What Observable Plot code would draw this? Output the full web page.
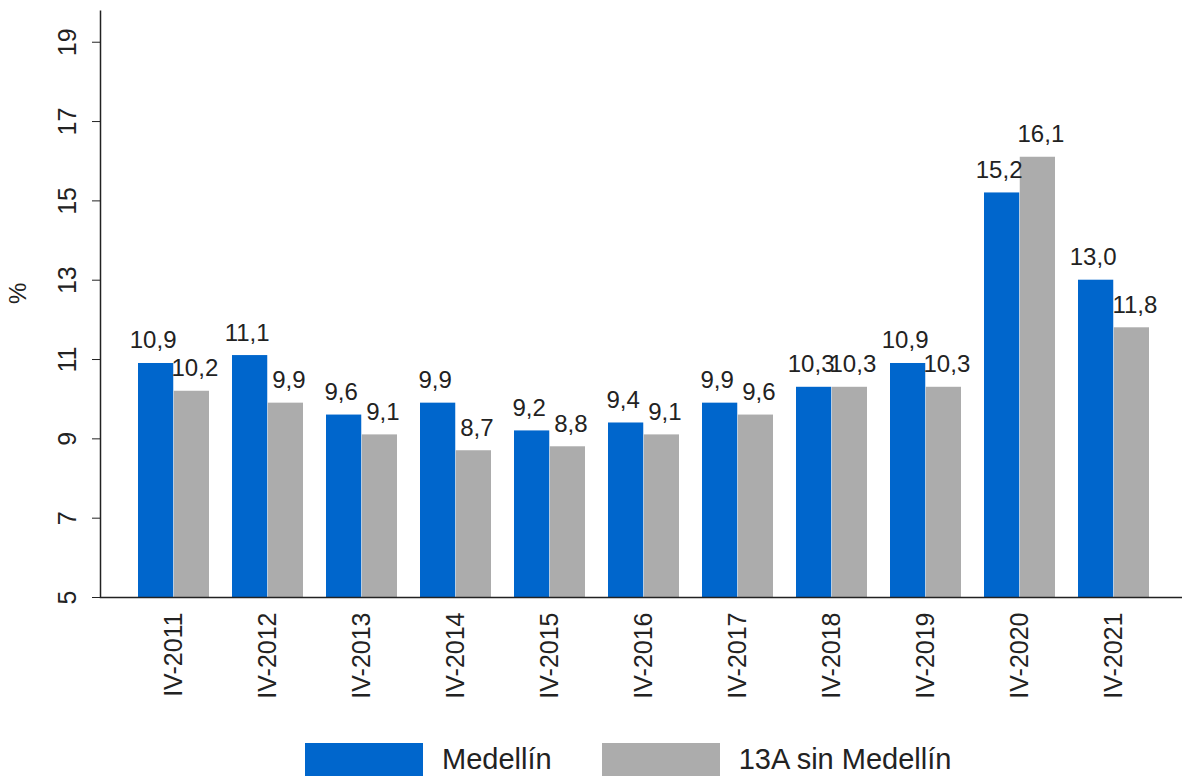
<!DOCTYPE html>
<html>
<head>
<meta charset="utf-8">
<script src="https://cdn.jsdelivr.net/npm/d3@7"></script>
<script src="https://cdn.jsdelivr.net/npm/@observablehq/plot@0.6"></script>
<style>
  html, body { margin: 0; padding: 0; background: #fff; }
  body { width: 1182px; height: 776px; overflow: hidden; font-family: "Liberation Sans", Arial, sans-serif; }
  #legend { display: flex; justify-content: flex-start; align-items: flex-start; margin-top: 28px; padding-left: 305px; font-size: 29px; color: #222; }
  .item { display: flex; align-items: flex-start; margin-right: 50px; }
  .sw { width: 118px; height: 40px; margin-right: 19px; }
  .item span { line-height: 32px; margin-top: 0px; }
</style>
</head>
<body>
<div id="chart"></div>
<div id="legend"></div>
<script>
const categories = ["IV-2011","IV-2012","IV-2013","IV-2014","IV-2015","IV-2016","IV-2017","IV-2018","IV-2019","IV-2020","IV-2021"];
const medellin = [10.9, 11.1, 9.6, 9.9, 9.2, 9.4, 9.9, 10.3, 10.9, 15.2, 13.0];
const sinMedellin = [10.2, 9.9, 9.1, 8.7, 8.8, 9.1, 9.6, 10.3, 10.3, 16.1, 11.8];
const seriesNames = ["Medellín", "13A sin Medellín"];
const seriesColors = ["#0066cc", "#acacac"];
const yTicks = [5, 7, 9, 11, 13, 15, 17, 19];

const dataM = categories.map((c, i) => ({cat: c, v: medellin[i]}));
const dataS = categories.map((c, i) => ({cat: c, v: sinMedellin[i]}));
const fmt = v => v.toFixed(1).replace(".", ",");

const W = 1182, H = 715, mL = 100, mR = 0, mT = 10, mB = 118;
const fw = W - mL - mR, fh = H - mT - mB;
const half = 35.75;
const chart = Plot.plot({
  width: W,
  height: H,
  marginLeft: mL,
  marginRight: mR,
  marginTop: mT,
  marginBottom: mB,
  style: {fontFamily: "'Liberation Sans', Arial, sans-serif", fontSize: "25px", color: "#222", background: "#fff"},
  x: {domain: categories, paddingInner: 0.242, paddingOuter: 0.358, align: 0.54},
  y: {domain: [5, 19.8]},
  marks: [
    Plot.barY(dataM, {x: "cat", y1: 5, y2: "v", fill: seriesColors[0], insetRight: half}),
    Plot.barY(dataS, {x: "cat", y1: 5, y2: "v", fill: seriesColors[1], insetLeft: half}),
    Plot.text(dataM, {x: "cat", y: "v", text: d => fmt(d.v), dx: -half / 2 - 3, dy: -15, lineAnchor: "bottom", fontSize: 24, fill: "#222"}),
    Plot.text(dataS, {x: "cat", y: "v", text: d => fmt(d.v), dx: half / 2 + 3, dy: -15, lineAnchor: "bottom", fontSize: 24, fill: "#222"}),
    Plot.axisY({ticks: yTicks, tickSize: 8, tickPadding: 17, tickRotate: -90, stroke: "#222", color: "#222", label: null, fontSize: 25}),
    Plot.axisX({tickSize: 0, tickPadding: 15, tickRotate: -90, stroke: "#222", color: "#222", label: null, fontSize: 25}),
    Plot.text(["%"], {frameAnchor: "left", rotate: -90, dx: -82, fontSize: 24, fill: "#222"}),
    // left + bottom axis lines (frame drawn only on its bottom and left sides)
    Plot.frame({stroke: "#222", strokeWidth: 1.5, strokeDasharray: `0 ${fw + fh} ${fw + fh}`})
  ]
});
document.getElementById("chart").appendChild(chart);

const legend = document.getElementById("legend");
seriesNames.forEach((n, i) => {
  const it = document.createElement("div");
  it.className = "item";
  const sw = document.createElement("div");
  sw.className = "sw";
  sw.style.background = seriesColors[i];
  const t = document.createElement("span");
  t.textContent = n;
  it.appendChild(sw); it.appendChild(t);
  legend.appendChild(it);
});
</script>
</body>
</html>
